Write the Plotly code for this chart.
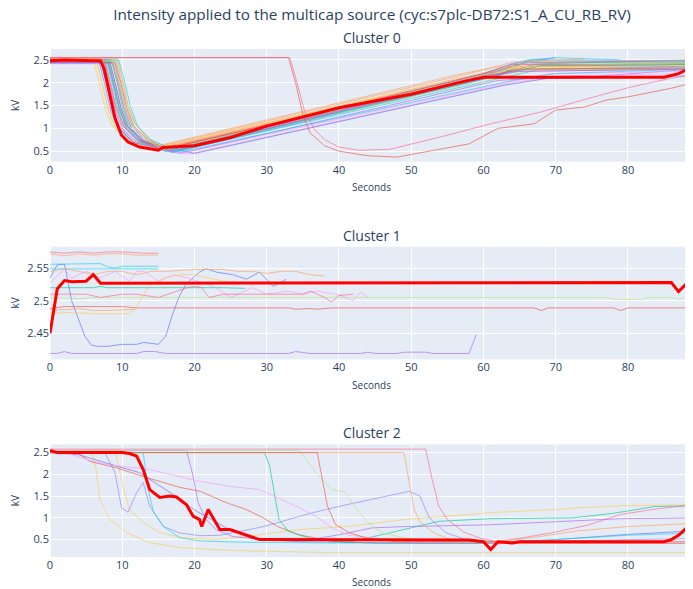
import plotly.graph_objects as go
from plotly.subplots import make_subplots

TITLE = "Intensity applied to the multicap source (cyc:s7plc-DB72:S1_A_CU_RB_RV)"
SUBTITLES = ["Cluster 0", "Cluster 1", "Cluster 2"]
X_LABEL = "Seconds"
Y_LABEL = "kV"

# ---------------- Cluster 0 (individual cycles: x vertices, y values) ----------------
c0_x = [
    [0, 7, 7.8, 8.6, 9.6, 11.5, 17, 62, 66, 70],
    [0, 8, 8.8, 9.6, 10.6, 12.5, 16, 60, 65, 89],
    [0, 8.5, 9.3, 10.1, 11.1, 13, 17, 61, 67, 89],
    [0, 7.5, 8.3, 9.1, 10.1, 12, 18, 62, 67, 72, 89],
    [0, 9.3, 10, 10.8, 11.8, 13.5, 16, 58, 63, 89],
    [0, 8, 8.8, 9.6, 10.6, 12.5, 16, 61, 66, 70, 79],
    [0, 7, 7.8, 8.6, 9.6, 11.5, 15, 59, 64, 89],
    [0, 6.5, 7.3, 8.1, 9.1, 11, 15, 60, 65, 89],
    [0, 8, 8.8, 9.6, 10.6, 12.5, 19, 64, 70, 89],
    [0, 6, 6.8, 7.6, 8.6, 10.5, 14, 57, 62, 89],
    [0, 8.7, 9.5, 10.3, 11.3, 13, 20, 63, 69, 89],
    [0, 7.5, 8.3, 9.1, 10.1, 12, 16, 59, 64, 89],
    [0, 7, 7.8, 8.6, 9.6, 11.5, 16, 60, 66, 89],
    [0, 8.8, 9.6, 10.4, 11.4, 13, 17, 61, 66, 89],
    [0, 9, 9.8, 10.6, 11.6, 13.5, 15, 57, 62, 89],
    [0, 7.8, 8.6, 9.4, 10.4, 12.3, 17, 62, 68, 89],
    [0, 8.3, 9.1, 9.9, 10.9, 12.8, 16, 60, 66, 89],
    [0, 9.2, 10, 10.8, 11.8, 13.6, 17, 62, 67, 89],
    [0, 7.2, 8, 8.8, 9.8, 11.7, 18, 63, 69, 89],
    [0, 6.3, 7.1, 7.9, 8.9, 10.8, 15, 58, 63, 89],
    [0, 8.2, 9, 9.8, 10.8, 12.7, 16, 60, 64, 67, 89],
    [0, 9, 9.8, 10.6, 11.6, 13.5, 16, 61, 66, 89],
    [0, 8, 8.8, 9.6, 10.6, 12.5, 17, 62, 68, 89],
    [0, 6.8, 7.6, 8.4, 9.4, 11.3, 17, 60, 65, 89],
    [0, 8.5, 9.3, 10.1, 11.1, 13, 15, 58, 64, 74],
    [0, 9.5, 10.3, 11.1, 12.1, 14, 18, 64, 70, 89],
    [0, 7.6, 8.4, 9.2, 10.2, 12.1, 15.5, 59, 65, 89],
    [0, 8.8, 9.6, 10.4, 11.4, 13.3, 16, 61, 67, 89],
    [0, 33, 34, 35, 36, 38, 40, 44, 48, 52, 58, 62, 67, 70, 74, 77, 80, 86, 89],
    [0, 33.2, 34.2, 35.2, 36.5, 38, 40, 42.8, 47, 54, 61, 68, 74.6, 80.5, 86, 89],
]
c0_y = [
    [2.45, 2.45, 2.0, 1.4, 1.0, 0.7, 0.47, 2.15, 2.45, 2.55],
    [2.5, 2.5, 2.0, 1.45, 1.05, 0.75, 0.55, 2.2, 2.3, 2.3],
    [2.48, 2.48, 2.0, 1.4, 1.0, 0.72, 0.5, 2.15, 2.4, 2.42],
    [2.42, 2.42, 1.9, 1.35, 0.98, 0.7, 0.45, 2.05, 2.1, 2.1, 2.3],
    [2.55, 2.55, 2.1, 1.5, 1.1, 0.78, 0.6, 2.15, 2.3, 2.35],
    [2.5, 2.5, 2.0, 1.45, 1.0, 0.72, 0.5, 2.2, 2.5, 2.55, 2.5],
    [2.52, 2.52, 2.05, 1.5, 1.05, 0.72, 0.55, 2.1, 2.25, 2.3],
    [2.45, 2.45, 1.95, 1.4, 1.0, 0.7, 0.52, 2.15, 2.35, 2.45],
    [2.42, 2.42, 1.95, 1.4, 1.0, 0.7, 0.43, 2.0, 2.15, 2.2],
    [2.5, 2.5, 2.0, 1.45, 1.05, 0.72, 0.55, 2.1, 2.3, 2.4],
    [2.43, 2.43, 1.95, 1.4, 1.0, 0.7, 0.45, 1.95, 2.1, 2.15],
    [2.48, 2.48, 2.0, 1.45, 1.05, 0.75, 0.55, 2.15, 2.4, 2.5],
    [2.5, 2.5, 2.0, 1.45, 1.0, 0.7, 0.52, 2.15, 2.45, 2.45],
    [2.5, 2.5, 2.0, 1.45, 1.05, 0.74, 0.5, 2.2, 2.45, 2.48],
    [2.55, 2.55, 2.1, 1.55, 1.15, 0.8, 0.62, 2.2, 2.35, 2.45],
    [2.47, 2.47, 2.0, 1.42, 1.0, 0.7, 0.48, 2.1, 2.3, 2.35],
    [2.45, 2.45, 1.95, 1.4, 1.0, 0.72, 0.52, 2.1, 2.35, 2.4],
    [2.5, 2.5, 2.05, 1.5, 1.1, 0.78, 0.52, 2.1, 2.28, 2.3],
    [2.43, 2.43, 1.95, 1.4, 1.0, 0.7, 0.45, 2.0, 2.2, 2.25],
    [2.52, 2.52, 2.05, 1.5, 1.05, 0.74, 0.55, 2.12, 2.35, 2.38],
    [2.5, 2.5, 2.0, 1.45, 1.03, 0.72, 0.5, 2.2, 2.42, 2.5, 2.48],
    [2.45, 2.45, 2.0, 1.45, 1.05, 0.75, 0.55, 2.18, 2.3, 2.32],
    [2.45, 2.45, 1.95, 1.4, 1.0, 0.7, 0.5, 2.15, 2.38, 2.4],
    [2.45, 2.45, 1.95, 1.4, 1.0, 0.7, 0.5, 2.12, 2.25, 2.3],
    [2.52, 2.52, 2.05, 1.5, 1.1, 0.78, 0.6, 2.2, 2.45, 2.52],
    [2.5, 2.5, 2.05, 1.5, 1.05, 0.74, 0.48, 2.05, 2.2, 2.3],
    [2.5, 2.5, 2.0, 1.45, 1.05, 0.74, 0.55, 2.15, 2.4, 2.35],
    [2.48, 2.48, 2.0, 1.45, 1.05, 0.75, 0.52, 2.2, 2.48, 2.5],
    [2.55, 2.55, 2.0, 1.3, 0.9, 0.62, 0.5, 0.4, 0.37, 0.48, 0.66, 1.0, 1.1, 1.4, 1.47, 1.62, 1.69, 1.88, 2.0],
    [2.55, 2.55, 2.0, 1.4, 1.0, 0.75, 0.59, 0.52, 0.54, 0.81, 1.1, 1.36, 1.66, 1.91, 2.1, 2.17],
]
c0_mean_x = [0, 2, 7, 7.5, 8.3, 9, 9.9, 10.8, 12.4, 15, 15.6, 20, 25, 30, 40, 50, 57, 60, 85, 87, 88, 89]
c0_mean_y = [2.48, 2.5, 2.48, 2.3, 1.73, 1.22, 0.85, 0.7, 0.59, 0.52, 0.58, 0.62, 0.8, 1.05, 1.45, 1.75, 2.02, 2.12, 2.12, 2.2, 2.28, 2.38]

# ---------------- Cluster 1 ----------------
c1_x = [
    [0, 1, 2, 3, 4.8, 5.7, 6.6, 8, 10, 12, 13, 15, 16, 17, 17.9, 18.8, 20.7, 21.6, 23, 25.3, 27.2, 29, 30.9, 32.7],
    [0, 1, 2, 3, 5, 10, 12, 13, 14.5, 16, 33, 34, 36, 43, 44, 45, 48, 49, 52, 53, 58, 59],
    [0, 2, 10, 12, 33, 34, 36, 37, 39, 67, 68, 69, 78, 79, 80, 89],
    [0, 4, 6, 10, 12, 40, 77, 78, 82, 83, 86, 87, 88, 89],
    [0, 6, 7, 8, 24, 26, 27],
    [0, 6, 7, 8, 9, 10, 15],
    [0, 15],
    [0, 2, 4, 6, 8, 10, 13, 15],
    [0, 2, 4, 6, 8, 10, 12, 15],
    [0, 2, 4, 6, 8, 10, 12, 14, 16, 20, 24, 26, 28, 30, 32, 34, 36, 38],
    [0, 2, 3, 5, 7, 9, 11, 12, 13, 15, 17, 19, 21, 23, 25, 28, 30, 33, 35, 37, 40, 42, 43, 44],
    [0, 5, 7, 10, 12, 15, 19, 20, 21, 22, 24, 30, 35, 36, 38, 39, 40, 42],
    [0, 3, 6, 11, 12, 13, 14, 16, 18, 20, 22, 24, 26],
    [0, 2, 4, 6, 8, 10, 12],
]
c1_y = [
    [2.535, 2.555, 2.556, 2.5, 2.446, 2.432, 2.43, 2.43, 2.433, 2.433, 2.436, 2.433, 2.445, 2.48, 2.507, 2.525, 2.544, 2.549, 2.544, 2.54, 2.533, 2.544, 2.522, 2.533],
    [2.419, 2.419, 2.422, 2.419, 2.419, 2.419, 2.419, 2.422, 2.422, 2.419, 2.419, 2.422, 2.419, 2.419, 2.421, 2.419, 2.419, 2.421, 2.421, 2.419, 2.419, 2.448],
    [2.488, 2.491, 2.491, 2.489, 2.489, 2.487, 2.488, 2.487, 2.489, 2.489, 2.485, 2.489, 2.489, 2.485, 2.489, 2.489],
    [2.505, 2.503, 2.505, 2.505, 2.505, 2.505, 2.505, 2.502, 2.502, 2.505, 2.505, 2.502, 2.505, 2.505],
    [2.52, 2.52, 2.522, 2.52, 2.52, 2.52, 2.519],
    [2.556, 2.556, 2.557, 2.552, 2.55, 2.553, 2.553],
    [2.549, 2.549],
    [2.575, 2.573, 2.575, 2.573, 2.575, 2.575, 2.573, 2.573],
    [2.572, 2.569, 2.572, 2.57, 2.572, 2.572, 2.57, 2.57],
    [2.545, 2.549, 2.545, 2.54, 2.545, 2.545, 2.54, 2.545, 2.545, 2.548, 2.548, 2.545, 2.545, 2.542, 2.545, 2.545, 2.54, 2.538],
    [2.528, 2.548, 2.535, 2.545, 2.535, 2.545, 2.53, 2.545, 2.545, 2.53, 2.54, 2.535, 2.528, 2.52, 2.505, 2.52, 2.51, 2.515, 2.51, 2.515, 2.509, 2.5, 2.513, 2.506],
    [2.51, 2.51, 2.505, 2.51, 2.51, 2.505, 2.52, 2.522, 2.52, 2.505, 2.51, 2.51, 2.51, 2.515, 2.505, 2.498, 2.508, 2.51],
    [2.481, 2.482, 2.48, 2.48, 2.49, 2.51, 2.525, 2.535, 2.54, 2.54, 2.535, 2.53, 2.528],
    [2.486, 2.486, 2.488, 2.485, 2.485, 2.486, 2.487],
]
c1_mean_x = [0, 1, 2, 3, 5, 6, 7, 20, 40, 60, 80, 85, 86, 87, 88, 89]
c1_mean_y = [2.45, 2.518, 2.531, 2.529, 2.53, 2.54, 2.527, 2.527, 2.527, 2.527, 2.527, 2.528, 2.528, 2.514, 2.525, 2.528]

# ---------------- Cluster 2 ----------------
c2_x = [
    [0, 5.8, 6.4, 6.9, 8.3, 10.6, 13.8, 18.4, 25.3, 39, 60, 89],
    [0, 9, 9.2, 10.1, 11, 12.9, 15.2, 18.4, 23, 29, 34.5, 41, 49, 61, 70, 73, 79, 89],
    [0, 7.6, 9, 9.9, 10.8, 12, 12.9, 13.8, 15.7, 18, 20.8, 23.5, 26.3, 29, 31.3, 36.4, 41, 49.7, 51.2, 52.5, 54.8, 57.5, 62, 70, 80, 89],
    [0, 4, 9.2, 12.4, 17, 20.3, 24.4, 27.2, 29, 35, 50, 60, 70, 80, 89],
    [0, 4, 5.5, 9.2, 13.3, 18, 20.8, 24.4, 27.2, 29.5, 31.5, 34.5, 39, 45, 89],
    [0, 12.9, 13.6, 14.3, 15.7, 18, 20.8, 26.3, 40, 60, 70, 80, 89],
    [0, 29.7, 30.4, 31, 31.7, 33, 35.7, 39, 41.4, 46.9, 53.8, 60.8, 67.7, 72.3, 77.8, 83.7, 89],
    [0, 18.9, 19.8, 20.5, 21.6, 23, 25.3, 29.6, 36, 40, 44.6, 49.2, 60.8, 72, 79, 89],
    [0, 3, 6, 8, 13.8, 20.7, 25, 29, 33, 36.8, 39, 41.4, 50, 89],
    [0, 34.5, 36.8, 39, 40.8, 42.1, 44, 45.9, 48.2, 50.5, 55, 89],
    [0, 49, 49.9, 50.4, 51.3, 53.1, 55.4, 62, 67, 73, 80, 89],
    [0, 37, 37.5, 38.4, 39.5, 41.4, 43.7, 48, 89],
    [0, 52, 52.9, 53.8, 55, 57.3, 59.6, 61.9, 65, 69.6, 74.6, 79, 83.7, 89],
]
c2_y = [
    [2.5, 2.5, 2.11, 1.42, 0.96, 0.66, 0.43, 0.31, 0.25, 0.2, 0.2, 0.2],
    [2.5, 2.5, 2.42, 1.73, 1.19, 0.89, 0.66, 0.54, 0.5, 0.61, 0.73, 0.8, 0.96, 1.12, 1.19, 1.23, 1.28, 1.3],
    [2.5, 2.5, 2.04, 1.23, 1.13, 1.58, 1.81, 1.27, 0.8, 0.65, 0.59, 0.6, 0.69, 0.78, 0.88, 1.12, 1.3, 1.61, 1.5, 1.0, 0.66, 0.5, 0.45, 0.46, 0.5, 0.52],
    [2.52, 2.45, 2.19, 2.04, 1.54, 1.15, 0.77, 0.57, 0.5, 0.45, 0.42, 0.42, 0.5, 0.62, 0.7],
    [2.5, 2.47, 2.3, 2.15, 1.93, 1.7, 1.61, 1.35, 1.19, 1.0, 0.8, 0.61, 0.46, 0.42, 0.41],
    [2.5, 2.5, 1.65, 1.15, 0.8, 0.54, 0.47, 0.44, 0.42, 0.42, 0.5, 0.6, 0.65],
    [2.5, 2.5, 2.19, 1.65, 0.96, 0.69, 0.54, 0.47, 0.44, 0.65, 0.92, 0.98, 1.0, 1.0, 1.1, 1.26, 1.28],
    [2.55, 2.55, 1.96, 1.35, 0.96, 0.73, 0.57, 0.5, 0.5, 0.61, 0.77, 0.8, 0.84, 0.92, 0.98, 1.0],
    [2.5, 2.45, 2.3, 2.22, 2.11, 1.84, 1.72, 1.65, 1.35, 1.04, 0.77, 0.6, 0.45, 0.42],
    [2.55, 2.55, 2.05, 1.65, 1.6, 1.27, 0.89, 0.66, 0.57, 0.5, 0.45, 0.45],
    [2.5, 2.5, 1.65, 1.19, 0.89, 0.66, 0.5, 0.45, 0.55, 0.7, 0.8, 0.87],
    [2.5, 2.5, 2.05, 1.27, 0.85, 0.66, 0.54, 0.45, 0.45],
    [2.58, 2.58, 1.88, 1.27, 0.96, 0.67, 0.53, 0.46, 0.53, 0.66, 0.84, 1.08, 1.2, 1.3],
]
c2_mean_x = [0, 1, 10, 11, 12, 12.9, 13.8, 15.2, 16.6, 17.5, 18.9, 19.8, 20.7, 21, 21.9, 23.5, 24.9, 27, 29, 58, 60, 61, 62, 64, 65, 85, 86, 87, 88, 89]
c2_mean_y = [2.55, 2.5, 2.5, 2.48, 2.42, 2.11, 1.65, 1.47, 1.5, 1.48, 1.3, 1.04, 0.96, 0.8, 1.19, 0.73, 0.73, 0.62, 0.5, 0.49, 0.45, 0.27, 0.45, 0.42, 0.45, 0.45, 0.5, 0.6, 0.75, 1.0]

Y_RANGES = [[0.27, 2.74], [2.41, 2.583], [0.1, 2.69]]
X_RANGE = [0, 89]

# ---------------- styling ----------------
PALETTE = ['#636efa', '#EF553B', '#00cc96', '#ab63fa', '#FFA15A',
           '#19d3f3', '#FF6692', '#B6E880', '#FF97FF', '#FECB52']
C0_COLORS = [PALETTE[i % 10] for i in range(len(c0_x) - 2)] + ['#EF553B', '#FF6692']
C1_COLORS = ['#636efa', '#ab63fa', '#EF553B', '#B6E880', '#00cc96', '#19d3f3', '#19d3f3',
             '#FF6692', '#FFA15A', '#FFA15A', '#FF97FF', '#FF6692', '#FECB52', '#FFA15A']
C2_COLORS = ['#FECB52', '#FECB52', '#8f86f0', '#636efa', '#EF553B', '#19d3f3', '#00cc96',
             '#ab63fa', '#FF97FF', '#B6E880', '#FFA15A', '#EF553B', '#FF6692']

# page body has an 8px margin, so the figure is offset by 8px
FIG_W, FIG_H = 685, 581

fig = make_subplots(rows=3, cols=1, subplot_titles=SUBTITLES,
                    vertical_spacing=85 / 508)

clusters = [(c0_x, c0_y, C0_COLORS, c0_mean_x, c0_mean_y),
            (c1_x, c1_y, C1_COLORS, c1_mean_x, c1_mean_y),
            (c2_x, c2_y, C2_COLORS, c2_mean_x, c2_mean_y)]

for r, (xs_list, ys_list, cols, mx, my) in enumerate(clusters, start=1):
    for xs, ys, col in zip(xs_list, ys_list, cols):
        fig.add_trace(go.Scatter(x=xs, y=ys, mode="lines",
                                 line=dict(color=col, width=1), opacity=0.65,
                                 showlegend=False, hoverinfo="skip"),
                      row=r, col=1)
    fig.add_trace(go.Scatter(x=mx, y=my, mode="lines",
                             line=dict(color="red", width=3),
                             showlegend=False),
                  row=r, col=1)
    fig.update_xaxes(range=X_RANGE, dtick=10, title_text=X_LABEL,
                     title_font=dict(size=10), tickfont=dict(size=11),
                     title_standoff=8, automargin=False, row=r, col=1)
    fig.update_yaxes(range=Y_RANGES[r - 1], title_text=Y_LABEL,
                     title_font=dict(size=10), tickfont=dict(size=11),
                     automargin=False, row=r, col=1)

fig.update_yaxes(dtick=0.5, row=1, col=1)
fig.update_yaxes(dtick=0.05, row=2, col=1)
fig.update_yaxes(dtick=0.5, row=3, col=1)

for ann in fig.layout.annotations:
    ann.font = dict(size=14, color="#2a3f5f")

fig.update_layout(
    width=FIG_W, height=FIG_H,
    margin=dict(l=42, r=0, t=41, b=32),
    title=dict(text=TITLE, x=364 / FIG_W, xanchor="center", xref="container",
               y=1 - 7 / FIG_H, yanchor="middle", yref="container",
               font=dict(size=15.3)),
    template="plotly",
    showlegend=False,
)

fig.write_html("out.html")
